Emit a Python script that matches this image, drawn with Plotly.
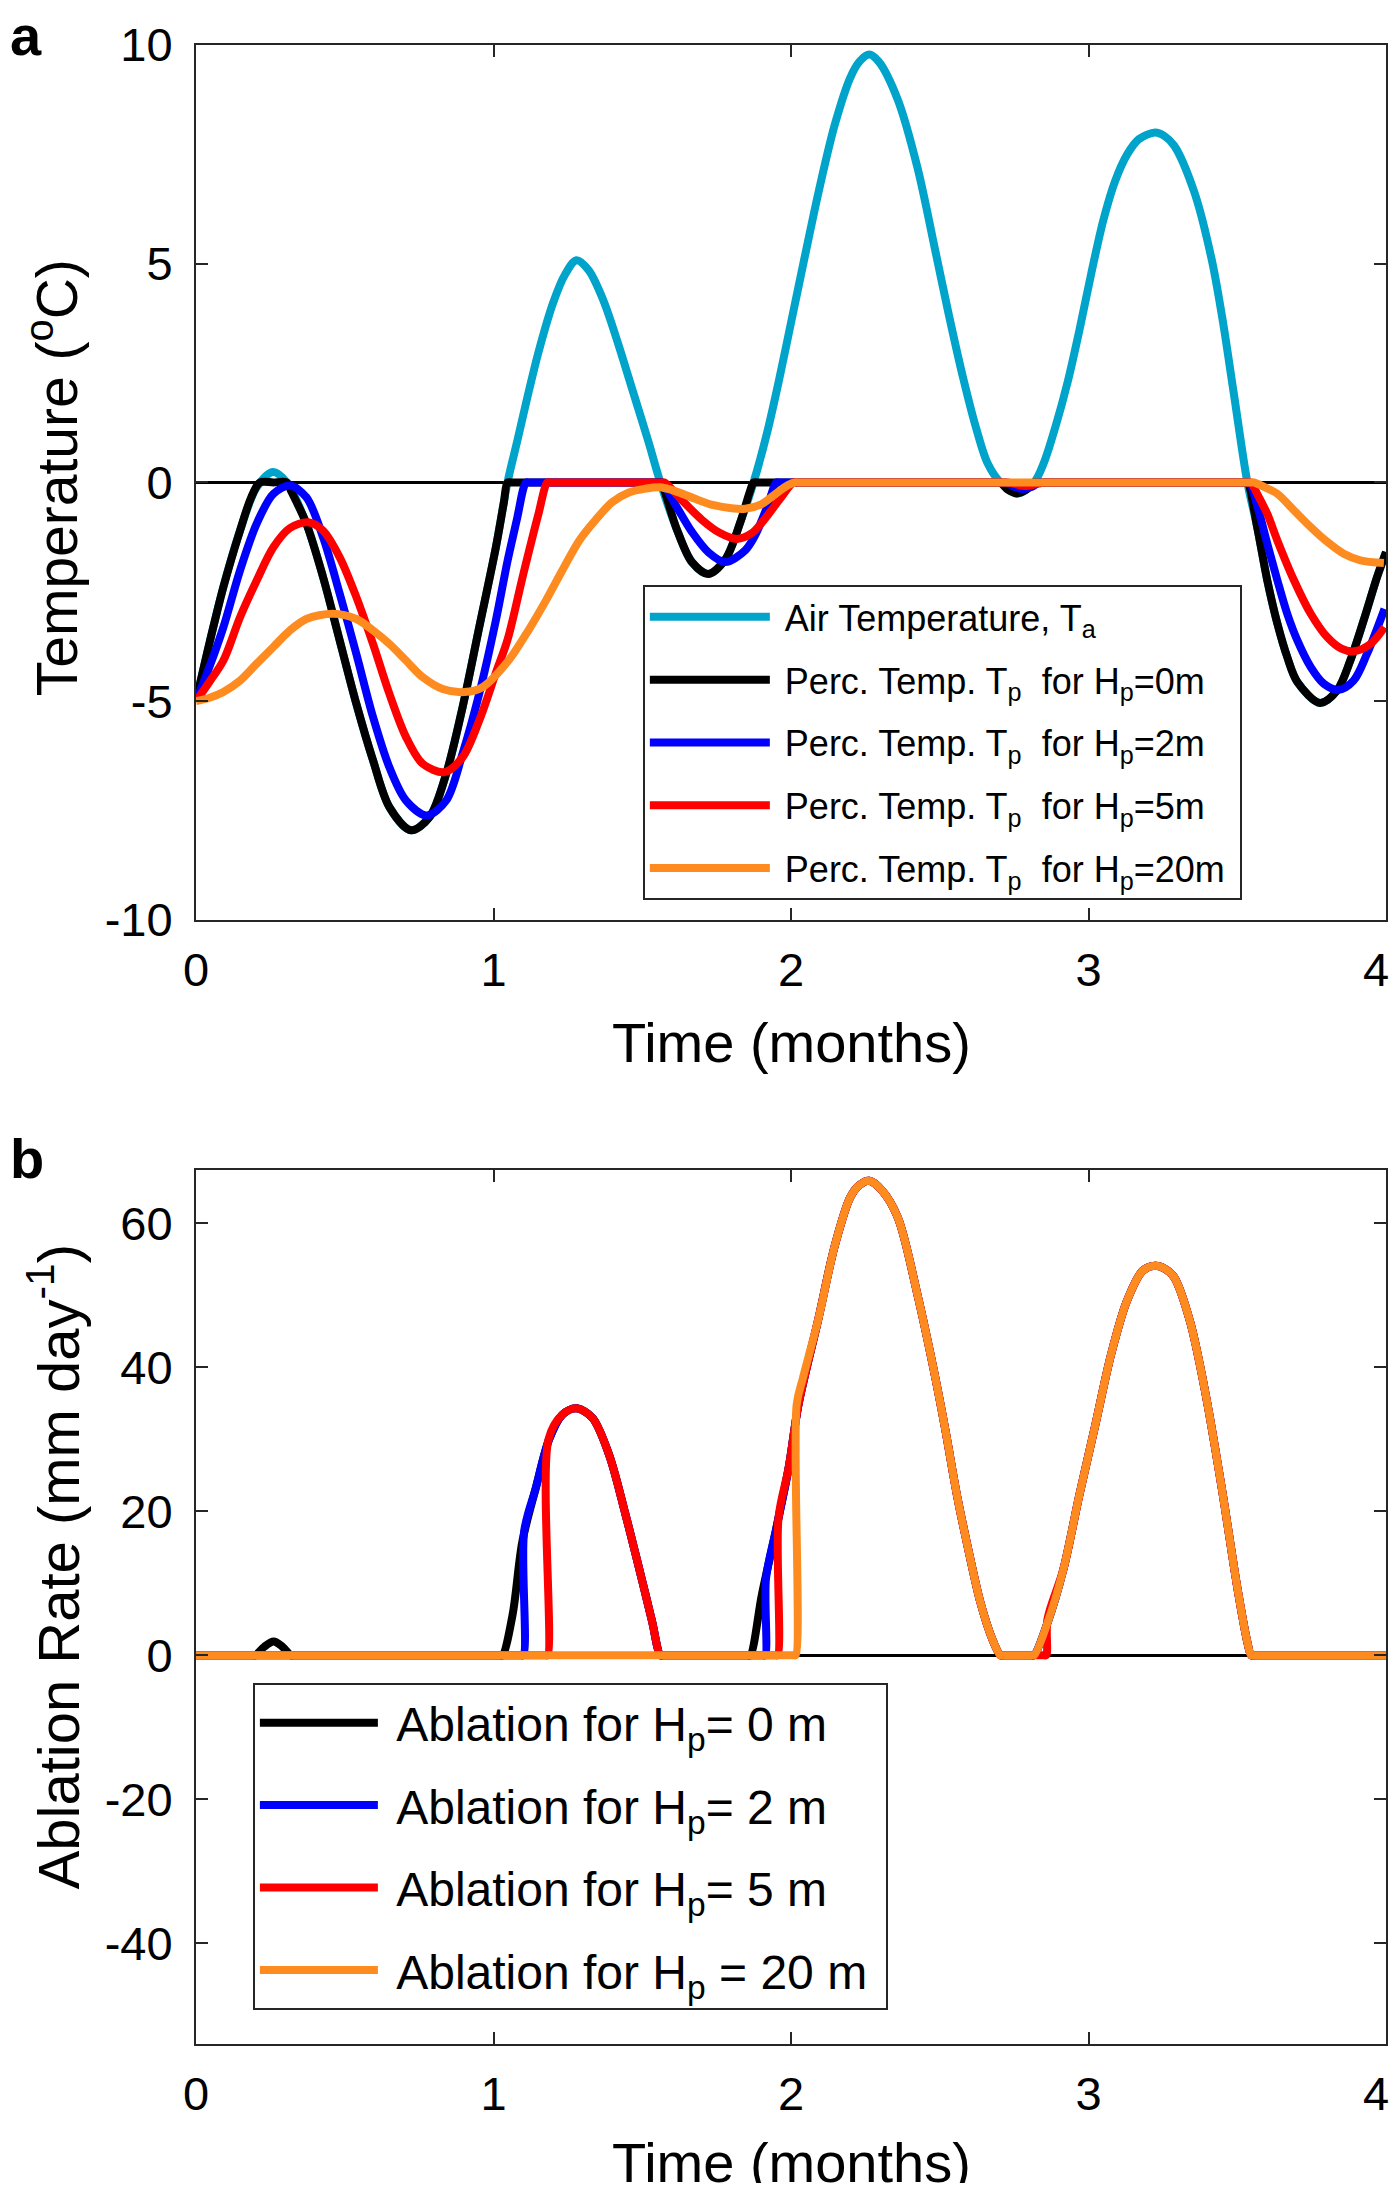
import plotly.graph_objects as go

# ---------- panel a : temperatures (deg C) against time (months) ----------
ta_t = [0.000, 0.046, 0.092, 0.148, 0.204, 0.259, 0.305, 0.371, 0.427, 0.483, 0.539, 0.595, 0.650,
        0.723, 0.785, 0.841, 0.896, 0.952, 1.008, 1.047, 1.080, 1.114, 1.150, 1.200, 1.240, 1.279,
        1.320, 1.370, 1.420, 1.470, 1.520, 1.561, 1.615, 1.667, 1.723, 1.780, 1.830, 1.874, 1.920,
        1.960, 2.000, 2.046, 2.093, 2.146, 2.199, 2.230, 2.263, 2.295, 2.359, 2.425, 2.485, 2.530,
        2.580, 2.624, 2.660, 2.704, 2.760, 2.817, 2.850, 2.890, 2.930, 2.970, 3.010, 3.050, 3.090,
        3.130, 3.170, 3.224, 3.255, 3.288, 3.355, 3.414, 3.450, 3.487, 3.534, 3.567, 3.601, 3.635,
        3.668, 3.702, 3.778, 3.836, 3.880, 3.925, 3.970, 4.000]
ta_val = [-5.0, -3.65, -2.39, -1.10, -0.11, 0.24, 0.0, -0.94, -2.16, -3.61, -5.06, -6.35, -7.42,
          -7.95, -7.65, -6.66, -5.14, -3.31, -1.48, 0.0, 0.95, 1.95, 2.95, 4.1, 4.75, 5.08,
          4.85, 4.15, 3.15, 2.05, 0.95, 0.0, -1.05, -1.82, -2.09, -1.75, -0.9, 0.0, 1.15,
          2.35, 3.65, 5.15, 6.65, 8.15, 9.25, 9.62, 9.78, 9.62, 8.75, 7.2, 5.3, 3.85,
          2.35, 1.2, 0.45, 0.0, -0.25, 0.0, 0.45, 1.3, 2.3, 3.5, 4.8, 6.0, 6.9,
          7.5, 7.85, 8.0, 7.92, 7.7, 6.65, 5.1, 3.75, 2.1, 0.0, -1.02, -2.24, -3.23,
          -3.99, -4.56, -5.04, -4.75, -4.07, -3.15, -2.16, -1.59]

hp0_t = [0.000, 0.046, 0.092, 0.148, 0.185, 0.215, 0.260, 0.305, 0.320, 0.371, 0.427, 0.483, 0.539,
         0.595, 0.650, 0.723, 0.785, 0.841, 0.896, 0.952, 1.008, 1.035, 1.047, 1.060, 1.300, 1.550,
         1.561, 1.615, 1.667, 1.723, 1.780, 1.830, 1.862, 1.874, 1.886, 2.300, 2.694, 2.704, 2.730,
         2.760, 2.790, 2.817, 2.827, 3.200, 3.524, 3.534, 3.567, 3.601, 3.635, 3.668, 3.702, 3.778,
         3.836, 3.880, 3.925, 3.970, 4.000]
hp0_val = [-5.0, -3.65, -2.39, -1.10, -0.35, 0.0, 0.0, 0.0, -0.2, -0.94, -2.16, -3.61, -5.06,
           -6.35, -7.42, -7.95, -7.65, -6.66, -5.14, -3.31, -1.48, -0.45, 0.0, 0.0, 0.0, 0.0,
           0.0, -1.05, -1.82, -2.09, -1.75, -0.9, -0.2, 0.0, 0.0, 0.0, 0.0, 0.0, -0.17,
           -0.25, -0.17, 0.0, 0.0, 0.0, 0.0, 0.0, -1.02, -2.24, -3.23, -3.99, -4.56, -5.04,
           -4.75, -4.07, -3.15, -2.16, -1.59]

hp2_t = [0.000, 0.046, 0.092, 0.148, 0.204, 0.260, 0.316, 0.371, 0.427, 0.483, 0.539, 0.595, 0.650,
         0.706, 0.776, 0.841, 0.896, 0.952, 1.008, 1.047, 1.080, 1.100, 1.109, 1.120, 1.300, 1.555,
         1.565, 1.615, 1.667, 1.723, 1.779, 1.846, 1.880, 1.923, 1.950, 1.960, 2.300, 2.710, 2.720,
         2.750, 2.780, 2.810, 2.835, 2.845, 3.200, 3.530, 3.540, 3.570, 3.601, 3.635, 3.668, 3.702,
         3.747, 3.791, 3.841, 3.891, 3.936, 3.995]
hp2_val = [-5.0, -4.2, -3.31, -2.01, -0.94, -0.26, -0.07, -0.34, -1.25, -2.54, -3.92, -5.36, -6.51,
           -7.27, -7.61, -7.27, -6.2, -4.83, -3.15, -1.8, -0.8, -0.15, 0.0, 0.0, 0.0, 0.0,
           0.0, -0.55, -1.13, -1.6, -1.82, -1.55, -1.2, -0.5, 0.0, 0.0, 0.0, 0.0, 0.0,
           -0.1, -0.15, -0.1, 0.0, 0.0, 0.0, 0.0, 0.0, -0.6, -1.40, -2.24, -3.0, -3.61,
           -4.22, -4.60, -4.74, -4.53, -3.92, -2.89]

hp5_t = [0.000, 0.046, 0.092, 0.148, 0.204, 0.260, 0.316, 0.377, 0.427, 0.483, 0.539, 0.595, 0.650,
         0.706, 0.762, 0.835, 0.896, 0.952, 1.008, 1.047, 1.100, 1.150, 1.181, 1.192, 1.350, 1.565,
         1.575, 1.630, 1.700, 1.760, 1.818, 1.870, 1.910, 1.960, 2.008, 2.018, 2.300, 2.720, 2.730,
         2.790, 2.850, 2.860, 3.200, 3.535, 3.545, 3.570, 3.601, 3.635, 3.691, 3.747, 3.803, 3.850,
         3.892, 3.948, 3.995]
hp5_val = [-5.0, -4.55, -4.07, -3.08, -2.24, -1.48, -1.04, -0.91, -1.1, -1.71, -2.62, -3.69, -4.83,
           -5.82, -6.43, -6.62, -6.28, -5.44, -4.35, -3.6, -2.1, -0.75, 0.0, 0.0, 0.0, 0.0,
           0.0, -0.38, -0.85, -1.15, -1.29, -1.15, -0.85, -0.4, 0.0, 0.0, 0.0, 0.0, 0.0,
           -0.08, 0.0, 0.0, 0.0, 0.0, 0.0, -0.3, -0.72, -1.33, -2.24, -3.0, -3.54, -3.8,
           -3.86, -3.69, -3.31]

hp20_t = [0.000, 0.046, 0.092, 0.148, 0.204, 0.260, 0.316, 0.371, 0.460, 0.539, 0.595, 0.650, 0.706,
          0.762, 0.829, 0.902, 0.963, 1.047, 1.120, 1.176, 1.232, 1.288, 1.344, 1.399, 1.455, 1.511,
          1.561, 1.620, 1.680, 1.740, 1.800, 1.846, 1.900, 1.950, 1.990, 2.014, 2.030, 2.300, 3.200,
          3.540, 3.556, 3.590, 3.635, 3.691, 3.747, 3.803, 3.858, 3.914, 3.993]
hp20_val = [-5.0, -4.92, -4.79, -4.53, -4.14, -3.76, -3.38, -3.12, -3.0, -3.12, -3.38, -3.69, -4.07,
            -4.45, -4.72, -4.79, -4.68, -4.1, -3.35, -2.70, -2.0, -1.33, -0.85, -0.45, -0.23, -0.14,
            -0.11, -0.22, -0.38, -0.52, -0.59, -0.6, -0.5, -0.25, -0.06, 0.0, 0.0, 0.0, 0.0,
            0.0, 0.0, -0.1, -0.26, -0.64, -1.02, -1.36, -1.63, -1.78, -1.84]

# ---------- panel b : ablation rate (mm/day) ----------
ab0_t = [0.000, 0.190, 0.200, 0.230, 0.261, 0.290, 0.318, 0.328, 1.020, 1.030, 1.064, 1.097, 1.142,
         1.187, 1.231, 1.279, 1.332, 1.388, 1.444, 1.500, 1.533, 1.561, 1.571, 1.853, 1.863, 1.902,
         1.950, 1.992, 2.025, 2.093, 2.146, 2.199, 2.230, 2.263, 2.305, 2.359, 2.425, 2.478, 2.518,
         2.558, 2.598, 2.637, 2.677, 2.704, 2.714, 2.807, 2.817, 2.863, 2.916, 2.969, 3.023, 3.076,
         3.129, 3.182, 3.224, 3.260, 3.288, 3.341, 3.394, 3.448, 3.501, 3.534, 3.547, 3.557, 4.000]
ab0_val = [0, 0, 0, 1.2, 1.9, 1.2, 0, 0, 0, 0, 5.6, 15.8, 23.2,
           30.0, 33.4, 34.3, 33.0, 27.9, 19.5, 10.3, 4.7, 0, 0, 0, 0, 8.4,
           17.5, 26.0, 34.8, 46.9, 56.7, 63.6, 65.3, 65.9, 64.6, 60.8, 50.1, 40.0, 31.5,
           22.2, 14.3, 7.3, 2.2, 0, 0, 0, 0, 4.6, 12.0, 22.2, 32.0, 41.8,
           49.2, 53.4, 54.1, 53.6, 52.5, 46.4, 36.2, 23.2, 9.2, 1.8, 0, 0, 0]

ab2_t = [0.000, 1.090, 1.100, 1.103, 1.142, 1.187, 1.231, 1.279, 1.332, 1.388, 1.444, 1.500, 1.533,
         1.561, 1.571, 1.906, 1.913, 1.916, 1.950, 1.992, 2.025, 2.093, 2.146, 2.199, 2.230, 2.263,
         2.305, 2.359, 2.425, 2.478, 2.518, 2.558, 2.598, 2.637, 2.677, 2.704, 2.714, 2.807, 2.817,
         2.863, 2.916, 2.969, 3.023, 3.076, 3.129, 3.182, 3.224, 3.260, 3.288, 3.341, 3.394, 3.448,
         3.501, 3.534, 3.547, 3.557, 4.000]
ab2_val = [0, 0, 0, 17.2, 23.2, 30.0, 33.4, 34.3, 33.0, 27.9, 19.5, 10.3, 4.7,
           0, 0, 0, 0, 10.7, 17.5, 26.0, 34.8, 46.9, 56.7, 63.6, 65.3, 65.9,
           64.6, 60.8, 50.1, 40.0, 31.5, 22.2, 14.3, 7.3, 2.2, 0, 0, 0, 0,
           4.6, 12.0, 22.2, 32.0, 41.8, 49.2, 53.4, 54.1, 53.6, 52.5, 46.4, 36.2, 23.2,
           9.2, 1.8, 0, 0, 0]

ab5_t = [0.000, 1.175, 1.182, 1.185, 1.231, 1.279, 1.332, 1.388, 1.444, 1.500, 1.533, 1.561, 1.571,
         1.948, 1.955, 1.958, 1.992, 2.025, 2.093, 2.146, 2.199, 2.230, 2.263, 2.305, 2.359, 2.425,
         2.478, 2.518, 2.558, 2.598, 2.637, 2.677, 2.704, 2.714, 2.850, 2.858, 2.862, 2.916, 2.969,
         3.023, 3.076, 3.129, 3.182, 3.224, 3.260, 3.288, 3.341, 3.394, 3.448, 3.501, 3.534, 3.547,
         3.557, 4.000]
ab5_val = [0, 0, 0, 30.0, 33.4, 34.3, 33.0, 27.9, 19.5, 10.3, 4.7, 0, 0,
           0, 0, 19.1, 26.0, 34.8, 46.9, 56.7, 63.6, 65.3, 65.9, 64.6, 60.8, 50.1,
           40.0, 31.5, 22.2, 14.3, 7.3, 2.2, 0, 0, 0, 0, 5.0, 12.0, 22.2,
           32.0, 41.8, 49.2, 53.4, 54.1, 53.6, 52.5, 46.4, 36.2, 23.2, 9.2, 1.8, 0,
           0, 0]

ab20_t = [0.000, 2.010, 2.016, 2.019, 2.040, 2.093, 2.146, 2.199, 2.230, 2.263, 2.305, 2.359, 2.425,
          2.478, 2.518, 2.558, 2.598, 2.637, 2.677, 2.704, 2.714, 2.807, 2.817, 2.863, 2.916, 2.969,
          3.023, 3.076, 3.129, 3.182, 3.224, 3.260, 3.288, 3.341, 3.394, 3.448, 3.501, 3.534, 3.547,
          3.557, 4.000]
ab20_val = [0, 0, 0, 34.8, 38.5, 46.9, 56.7, 63.6, 65.3, 65.9, 64.6, 60.8, 50.1,
            40.0, 31.5, 22.2, 14.3, 7.3, 2.2, 0, 0, 0, 0, 4.6, 12.0, 22.2,
            32.0, 41.8, 49.2, 53.4, 54.1, 53.6, 52.5, 46.4, 36.2, 23.2, 9.2, 1.8, 0,
            0, 0]

x_ticks = [0, 1, 2, 3, 4]
temp_ticks = [-10, -5, 0, 5, 10]
temp_labels = ["-10", "-5", "0", "5", "10"]
abl_ticks = [-40, -20, 0, 20, 40, 60]
abl_labels = ["-40", "-20", "0", "20", "40", "60"]

CYAN = "#00A3C9"
BLUE = "#0000FF"
RED = "#FF0000"
ORANGE = "#FD8B1F"
AXC = "#262626"
FONT = "Liberation Sans, Arial, Helvetica, sans-serif"
LW = 8
NB = "\u00a0"

top_series = [
    (ta_t, ta_val, CYAN, "Air Temperature, T<sub>a</sub>"),
    (hp0_t, hp0_val, "black", "Perc. Temp. T<sub>p</sub>  for H<sub>p</sub>=0m"),
    (hp2_t, hp2_val, BLUE, "Perc. Temp. T<sub>p</sub>  for H<sub>p</sub>=2m"),
    (hp5_t, hp5_val, RED, "Perc. Temp. T<sub>p</sub>  for H<sub>p</sub>=5m"),
    (hp20_t, hp20_val, ORANGE, "Perc. Temp. T<sub>p</sub>  for H<sub>p</sub>=20m" + NB),
]
bottom_series = [
    (ab0_t, ab0_val, "black", "Ablation for H<sub>p</sub>= 0 m"),
    (ab2_t, ab2_val, BLUE, "Ablation for H<sub>p</sub>= 2 m"),
    (ab5_t, ab5_val, RED, "Ablation for H<sub>p</sub>= 5 m"),
    (ab20_t, ab20_val, ORANGE, "Ablation for H<sub>p</sub> = 20 m" + NB),
]

fig = go.Figure()
for i, (t, v, c, name) in enumerate(top_series):
    fig.add_trace(go.Scatter(x=t, y=v, mode="lines", name=NB + name, legend="legend",
                             legendgroup="a%d" % i,
                             line=dict(color=c, width=LW, shape="spline", smoothing=0.9),
                             xaxis="x", yaxis="y"))
for i, (t, v, c, name) in enumerate(bottom_series):
    fig.add_trace(go.Scatter(x=t, y=v, mode="lines", name=NB + name, legend="legend2",
                             legendgroup="b%d" % i,
                             line=dict(color=c, width=LW, shape="spline", smoothing=0.9),
                             xaxis="x2", yaxis="y2"))

# transparent copies that only make the two overlay axes (last time label) render
for xa, ya, (t, v) in (("x3", "y", (ta_t, ta_val)), ("x4", "y2", (ab0_t, ab0_val))):
    fig.add_trace(go.Scatter(x=t, y=v, mode="lines", opacity=0, showlegend=False,
                             hoverinfo="skip", line=dict(width=1), xaxis=xa, yaxis=ya))

tick_font = dict(family=FONT, size=47, color="black")
axis_common = dict(showline=True, linecolor=AXC, linewidth=2, mirror="ticks", ticks="inside",
                   ticklen=12, tickwidth=2, tickcolor=AXC, showgrid=False, tickfont=tick_font)
# the last time label sits on the right page edge; it goes on an overlay axis nudged left
edge_axis = dict(range=[0, 4], tickvals=x_ticks[-1:], ticktext=[str(x_ticks[-1])], showline=False,
                 ticks="", showgrid=False, zeroline=False, ticklabelstandoff=18, ticklabelshift=-10,
                 ticklabeloverflow="allow", tickfont=tick_font)

# the page body adds an 8 px margin all round, so the figure is 16 px smaller than the window
fig.update_layout(
    width=1384, height=2175,
    margin=dict(l=188, r=3, t=37, b=139),
    paper_bgcolor="white", plot_bgcolor="white",
    font=dict(family=FONT, color="black"),
    xaxis=dict(domain=[0, 1], anchor="y", range=[0, 4], tickvals=x_ticks[:-1],
               ticklabelstandoff=8, zeroline=False, **axis_common),
    yaxis=dict(domain=[0.5623, 1], anchor="x", range=[-10, 10], tickvals=temp_ticks,
               ticktext=temp_labels, zeroline=True, zerolinecolor="black", zerolinewidth=3,
               ticklabelstandoff=12, **axis_common),
    xaxis2=dict(domain=[0, 1], anchor="y2", range=[0, 4], tickvals=x_ticks[:-1],
                ticklabelstandoff=8, zeroline=False, **axis_common),
    yaxis2=dict(domain=[0, 0.4372], anchor="x2", range=[-54, 67.4], tickvals=abl_ticks,
                ticktext=abl_labels, zeroline=True, zerolinecolor="black", zerolinewidth=3,
                ticklabelstandoff=12, **axis_common),
    xaxis3=dict(overlaying="x", anchor="y", side="bottom", **edge_axis),
    xaxis4=dict(overlaying="x2", anchor="y2", side="bottom", **edge_axis),
    legend=dict(x=0.3755, y=0.7299, xanchor="left", yanchor="top", bgcolor="white",
                bordercolor=AXC, borderwidth=2, font=dict(family=FONT, size=36),
                itemwidth=120, tracegroupgap=13, traceorder="grouped"),
    legend2=dict(x=0.0478, y=0.1806, xanchor="left", yanchor="top", bgcolor="white",
                 bordercolor=AXC, borderwidth=2, font=dict(family=FONT, size=48),
                 itemwidth=118, tracegroupgap=17, traceorder="grouped"),
)

annots = [
    dict(text="<b>a</b>", x=-0.158, y=1.005, xanchor="left", yanchor="middle", font=dict(size=56)),
    dict(text="<b>b</b>", x=-0.158, y=0.4428, xanchor="left", yanchor="middle", font=dict(size=56)),
    dict(text="Time (months)", x=0.5, y=0.5008, xanchor="center", yanchor="middle", font=dict(size=56)),
    dict(text="Time (months)", x=0.5, y=-0.0595, xanchor="center", yanchor="middle", font=dict(size=56)),
    dict(text="Temperature (<sup>o</sup>C)", x=-0.1199, y=0.7834, textangle=-90,
         xanchor="center", yanchor="middle", font=dict(size=57)),
    dict(text="Ablation Rate (mm day<sup>-1</sup>)", x=-0.1199, y=0.2386, textangle=-90,
         xanchor="center", yanchor="middle", font=dict(size=58)),
]
for a in annots:
    a.update(xref="paper", yref="paper", showarrow=False)
    a["font"].update(family=FONT, color="black")
    fig.add_annotation(**a)

fig.write_html("out.html")
